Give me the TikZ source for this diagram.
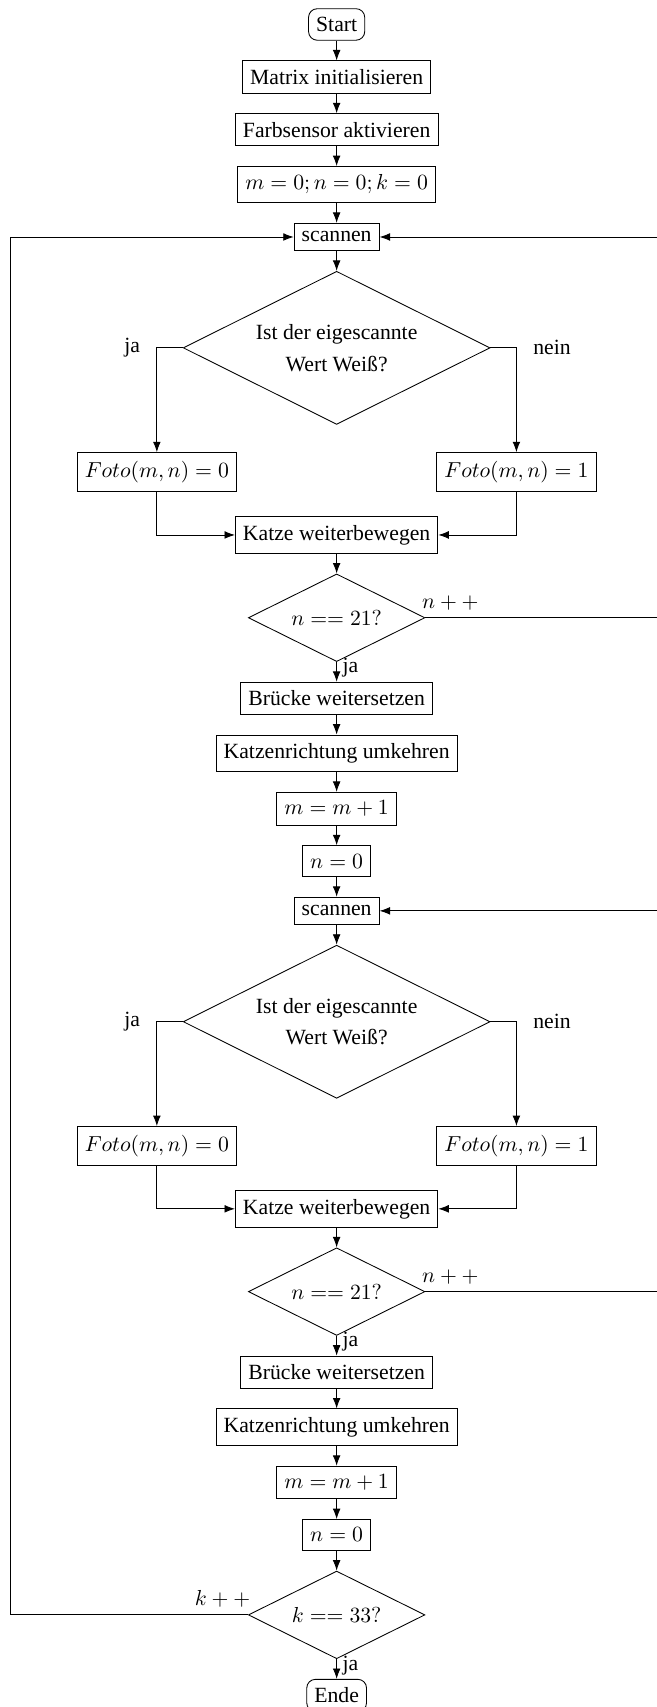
\documentclass[tikz,border=0pt]{standalone}
\usepackage[no-math]{fontspec}
\setmainfont{Liberation Serif}
\usetikzlibrary{shapes.geometric, positioning, arrows.meta, calc}

\begin{document}
\begin{tikzpicture}[
    node distance=0.32cm,
    % Styles
    terminal/.style={
        draw,
        rounded corners=4pt,
        inner xsep=3.5pt,
        inner ysep=3.9pt
    },
    process/.style={
        draw,
        rectangle,
        inner xsep=3.5pt,
        inner ysep=3.9pt,
        align=center
    },
    decision/.style={
        draw,
        diamond,
        aspect=2,
        inner sep=0pt,
        align=center
    },
    bigdecision/.style={decision, minimum width=4.97cm, minimum height=2.48cm},
    smalldecision/.style={decision, minimum width=2.86cm, minimum height=1.42cm},
    arrow/.style={->, >=Latex},
    note/.style={inner sep=3.3pt}
]

    % --- START ---
    \node[terminal] (start) {Start};
    \useasboundingbox ($(start.north)+(-5.453cm,0.134cm)$) rectangle ++(10.64cm,-27.65cm);
    \coordinate (leftedge) at ($(start.center)+(-5.29cm,0)$);
    \coordinate (rightedge) at ($(start.center)+(5.24cm,0)$);

    \node[process, below=of start] (init) {Matrix initialisieren};
    \node[process, below=of init] (sensor) {Farbsensor aktivieren};
    \node[process, below=of sensor] (reset) {$m=0; n=0; k=0$};

    % --- FIRST ROW ---
    \node[process, below=of reset] (scanA) {scannen};
    \node[bigdecision, below=of scanA] (weissA) {Ist der eigescannte\\[2.6pt]Wert Weiß?};
    \coordinate[left=0.42cm of weissA.west] (jaA);
    \coordinate[right=0.42cm of weissA.east] (neinA);
    \node[note, left=0.15cm of jaA] (jaAtext) {ja};
    \node[note, right=0.15cm of neinA] (neinAtext) {nein};
    \node[process, below=1.69cm of jaA] (fotoA0) {$Foto(m,n)=0$};
    \node[process, below=1.69cm of neinA] (fotoA1) {$Foto(m,n)=1$};
    \node[process, below=1.48cm of weissA] (moveA) {Katze weiterbewegen};
    \node[smalldecision, below=of moveA] (endA) {$n == 21?$};
    \node[process, below=of endA] (bridgeA) {Brücke weitersetzen};
    \node[process, below=of bridgeA] (turnA) {Katzenrichtung umkehren};
    \node[process, below=of turnA] (incA) {$m=m+1$};
    \node[process, below=of incA] (zeroA) {$n=0$};

    % --- SECOND ROW ---
    \node[process, below=of zeroA] (scanB) {scannen};
    \node[bigdecision, below=of scanB] (weissB) {Ist der eigescannte\\[2.6pt]Wert Weiß?};
    \coordinate[left=0.42cm of weissB.west] (jaB);
    \coordinate[right=0.42cm of weissB.east] (neinB);
    \node[note, left=0.15cm of jaB] (jaBtext) {ja};
    \node[note, right=0.15cm of neinB] (neinBtext) {nein};
    \node[process, below=1.69cm of jaB] (fotoB0) {$Foto(m,n)=0$};
    \node[process, below=1.69cm of neinB] (fotoB1) {$Foto(m,n)=1$};
    \node[process, below=1.48cm of weissB] (moveB) {Katze weiterbewegen};
    \node[smalldecision, below=of moveB] (endB) {$n == 21?$};
    \node[process, below=of endB] (bridgeB) {Brücke weitersetzen};
    \node[process, below=of bridgeB] (turnB) {Katzenrichtung umkehren};
    \node[process, below=of turnB] (incB) {$m=m+1$};
    \node[process, below=of incB] (zeroB) {$n=0$};

    % --- END ---
    \node[smalldecision, below=of zeroB] (rowend) {$k == 33?$};
    \node[terminal, below=of rowend] (ende) {Ende};

    % --- ARROWS ---
    \draw[arrow] (start) -- (init);
    \draw[arrow] (init) -- (sensor);
    \draw[arrow] (sensor) -- (reset);
    \draw[arrow] (reset) -- (scanA);
    \draw[arrow] (scanA) -- (weissA);
    \draw[arrow] (weissA.west) -- (jaA) -- (fotoA0);
    \draw[arrow] (weissA.east) -- (neinA) -- (fotoA1);
    \draw[arrow] (fotoA0) |- (moveA);
    \draw[arrow] (fotoA1) |- (moveA);
    \draw[arrow] (moveA) -- (endA);
    \draw[arrow] (endA) -- node[right, pos=0.3, inner sep=2.5pt] (jaAexit) {ja} (bridgeA);
    \draw[arrow] (bridgeA) -- (turnA);
    \draw[arrow] (turnA) -- (incA);
    \draw[arrow] (incA) -- (zeroA);
    \draw[arrow] (zeroA) -- (scanB);
    \draw[arrow] (endA.east) node[above right, xshift=-5pt] (incnA) {$n++$}
        -- (endA.east -| rightedge) |- (scanA.east);

    \draw[arrow] (scanB) -- (weissB);
    \draw[arrow] (weissB.west) -- (jaB) -- (fotoB0);
    \draw[arrow] (weissB.east) -- (neinB) -- (fotoB1);
    \draw[arrow] (fotoB0) |- (moveB);
    \draw[arrow] (fotoB1) |- (moveB);
    \draw[arrow] (moveB) -- (endB);
    \draw[arrow] (endB) -- node[right, pos=0.3, inner sep=2.5pt] (jaBexit) {ja} (bridgeB);
    \draw[arrow] (bridgeB) -- (turnB);
    \draw[arrow] (turnB) -- (incB);
    \draw[arrow] (incB) -- (zeroB);
    \draw[arrow] (zeroB) -- (rowend);
    \draw[arrow] (endB.east) node[above right, xshift=-5pt] (incnB) {$n++$}
        -- (endB.east -| rightedge) |- (scanB.east);

    \draw[arrow] (rowend) -- node[right, pos=0.35, inner sep=2.5pt] (jaEnd) {ja} (ende);
    \draw[arrow] (rowend.west) node[above left, xshift=4.6pt] (inckA) {$k++$}
        -- (rowend.west -| leftedge) |- (scanA.west);

\end{tikzpicture}
\end{document}
